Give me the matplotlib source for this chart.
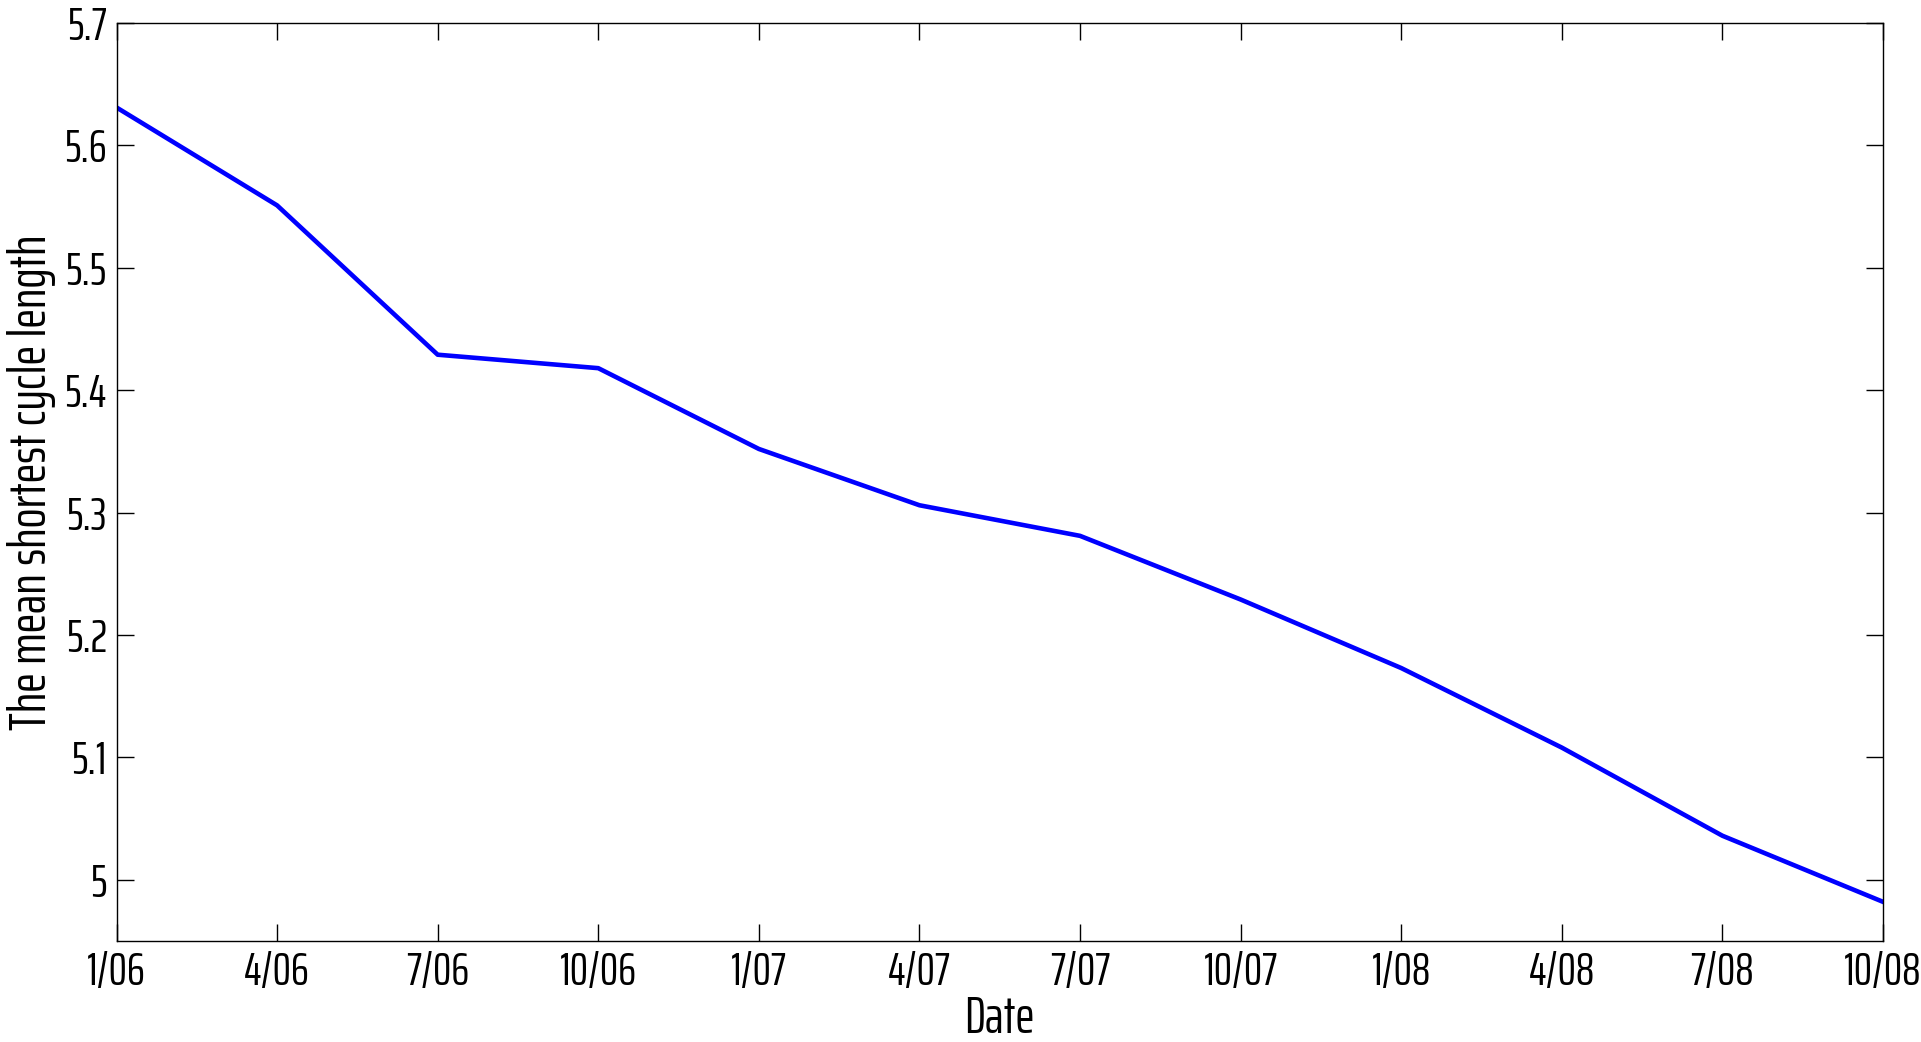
import matplotlib
matplotlib.use('Agg')
import matplotlib.pyplot as plt

dates = ['1/06', '4/06', '7/06', '10/06', '1/07', '4/07', '7/07',
         '10/07', '1/08', '4/08', '7/08', '10/08']
cycle_len = [5.631, 5.551, 5.429, 5.418, 5.352, 5.306, 5.281,
             5.229, 5.173, 5.108, 5.036, 4.982]
y_ticks = [5.0, 5.1, 5.2, 5.3, 5.4, 5.5, 5.6, 5.7]
y_labels = ['5', '5.1', '5.2', '5.3', '5.4', '5.5', '5.6', '5.7']

# narrow squarish face, closest to the original's Agency-style font
plt.rcParams['font.family'] = ['Saira ExtraCondensed', 'DejaVu Sans']

fig = plt.figure(figsize=(19.21, 10.42), dpi=100)
ax = fig.add_axes([116.5 / 1921, 1 - 941 / 1042, (1883 - 116.5) / 1921, (941 - 23) / 1042])

x = list(range(len(dates)))
ax.plot(x, cycle_len, color='#0000ff', linewidth=3.3)

ax.set_xlim(0, len(dates) - 1)
ax.set_ylim(4.95, 5.7)
ax.set_xticks(x)
ax.set_xticklabels(dates)
ax.set_yticks(y_ticks)
ax.set_yticklabels(y_labels)

ax.tick_params(direction='in', length=12, width=1.0, labelsize=33,
               top=True, right=True, pad=7)
for s in ax.spines.values():
    s.set_linewidth(1.0)

ax.set_xlabel('Date', fontsize=37, labelpad=0)
ax.set_ylabel('The mean shortest cycle length', fontsize=38, labelpad=6)

fig.savefig('out.png', dpi=100, facecolor='white')
